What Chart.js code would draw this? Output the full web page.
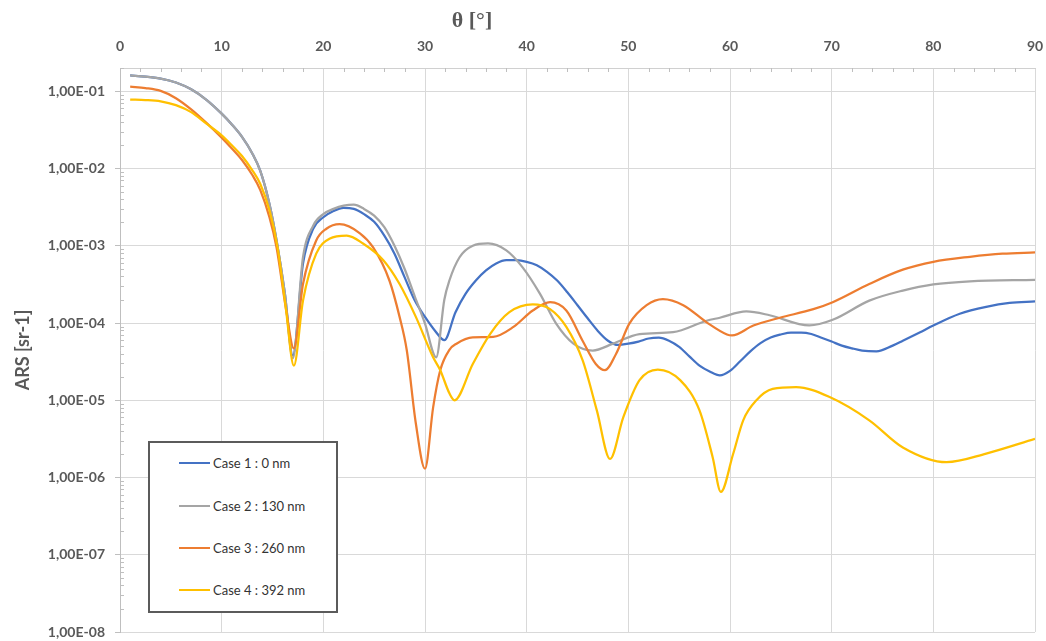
<!DOCTYPE html>
<html><head><meta charset="utf-8">
<script src="https://cdn.jsdelivr.net/npm/chart.js@4"></script>
<style>
html,body{margin:0;padding:0;background:#fff;}
#wrap{position:relative;width:1046px;height:641px;}
#legend{position:absolute;left:148px;top:441px;width:190px;height:172px;border:2px solid #5b5b5b;background:#fff;box-sizing:border-box;}
.item{position:absolute;left:29px;height:18px;display:flex;align-items:center;font:13px Lato, sans-serif;color:#333;white-space:nowrap;}
.swatch{width:31px;height:2px;margin-right:3px;}
</style></head>
<body><div id="wrap"><canvas id="c" width="1046" height="641"></canvas><div id="legend"></div></div>
<script>
// ---- data ----
const seriesLabels = ['Case 1 : 0 nm', 'Case 2 : 130 nm', 'Case 3 : 260 nm', 'Case 4 : 392 nm'];
const seriesColors = ['#4472C4', '#A5A5A5', '#ED7D31', '#FFC000'];

const theta1 = [1,2.5,4,5.5,7,8.5,10,11,12,13,13.8,14.7,15.4,16.2,17,18,19,20,21,22,23,24,25,26,27,28,29,30,31,31.9,33,34,35,36,37,38,39,40,41,42,43,44,45,46,47,48,49,50,51,52,53,54,55,56,57,58,59,60,61,62,63,64,65,66,67,68,69,70,71,72,73,74.4,76,77,78.7,80,82.6,85.2,87.5,90];
const ars1 = [0.16,0.155,0.146,0.13,0.106,0.0776,0.0513,0.0372,0.0257,0.0158,0.0093,0.00347,0.00117,2.5e-4,3.8e-5,5.9e-4,1.66e-3,2.34e-3,2.82e-3,3.1e-3,3.0e-3,2.57e-3,2.04e-3,1.35e-3,7.9e-4,3.9e-4,1.95e-4,1.2e-4,7.9e-5,6.0e-5,1.38e-4,2.4e-4,3.55e-4,4.8e-4,5.9e-4,6.5e-4,6.5e-4,6.2e-4,5.6e-4,4.6e-4,3.55e-4,2.5e-4,1.7e-4,1.15e-4,7.9e-5,5.9e-5,5.2e-5,5.4e-5,5.75e-5,6.3e-5,6.45e-5,5.9e-5,4.9e-5,3.7e-5,2.8e-5,2.35e-5,2.1e-5,2.4e-5,3.2e-5,4.3e-5,5.5e-5,6.5e-5,7.1e-5,7.5e-5,7.5e-5,7.2e-5,6.45e-5,5.75e-5,5.1e-5,4.7e-5,4.4e-5,4.3e-5,5.1e-5,5.9e-5,7.6e-5,9.3e-5,1.32e-4,1.62e-4,1.82e-4,1.9e-4];

const theta2 = [1,2.5,4,5.5,7,8.5,10,11,12,13,13.8,14.7,15.4,16.2,17,18,19,20,21,22,23,24,25,26,27,28,29,30,31.1,31.9,32.4,33.4,34.7,36.2,38,39.6,41.3,42.9,44.6,46.5,48.5,51.1,54.4,57.7,59,61.6,63.9,67.8,70.1,73.7,77,80,83.6,90];
const ars2 = [0.16,0.155,0.146,0.13,0.106,0.0776,0.0513,0.0372,0.0257,0.0158,0.0093,0.00347,0.00117,2.5e-4,3.5e-5,7.1e-4,1.82e-3,2.57e-3,3.0e-3,3.3e-3,3.4e-3,3.0e-3,2.45e-3,1.74e-3,1.0e-3,5.0e-4,2.2e-4,9.8e-5,3.6e-5,2.0e-4,3.55e-4,7.1e-4,1.0e-3,1.07e-3,8.7e-4,5.25e-4,2.4e-4,9.8e-5,5.4e-5,4.4e-5,5.4e-5,7.2e-5,7.6e-5,1.07e-4,1.17e-4,1.41e-4,1.26e-4,9.3e-5,1.1e-4,1.95e-4,2.63e-4,3.16e-4,3.47e-4,3.63e-4];

const theta3 = [1,2.5,4,5.5,7,8.5,10,11,12,13,13.8,14.7,15.4,16.3,17.1,18,19.3,20.3,21.6,23.6,24.9,26.5,27.5,28.2,29.1,30,30.8,31.5,32.4,33.1,34.7,36.7,38.7,40.6,42.3,43.9,45.5,46.8,47.7,48.8,50.1,51.8,53.4,55.4,57.7,59.7,60.2,62.3,64.9,68.2,70.1,73.7,77,80,83.6,86.8,90];
const ars3 = [0.115,0.11,0.101,0.0813,0.0582,0.0389,0.0251,0.0182,0.0129,0.0083,0.00525,0.00234,9.5e-4,1.6e-4,4.7e-5,3.2e-4,1.17e-3,1.66e-3,1.9e-3,1.45e-3,9.5e-4,3.55e-4,1.2e-4,4.5e-5,5.0e-6,1.3e-6,8.1e-6,2.45e-5,4.5e-5,5.4e-5,6.5e-5,6.6e-5,8.9e-5,1.45e-4,1.86e-4,1.45e-4,5.9e-5,2.95e-5,2.45e-5,4.0e-5,9.8e-5,1.7e-4,2.04e-4,1.7e-4,1.02e-4,7.1e-5,6.9e-5,9.3e-5,1.17e-4,1.51e-4,1.86e-4,3.2e-4,4.9e-4,6.2e-4,7.2e-4,7.9e-4,8.2e-4];

const theta4 = [1,2.5,4,5.5,7,8.5,10,11,12,13,13.8,14.7,15.5,16.3,17.1,18,19.3,20.6,22.3,23.9,25.9,27.5,29.1,30.8,31.5,32.4,32.9,34.7,36.4,38.3,40.6,42.3,43.9,45.5,46.9,48.2,49.5,51.1,52.9,55.1,57,58.3,59.1,60.3,61.3,62.6,64.2,66.5,69.8,73.7,77,81.3,85.2,90];
const ars4 = [0.078,0.077,0.0741,0.0661,0.0537,0.038,0.0269,0.02,0.0145,0.00955,0.0063,0.00288,9.5e-4,1.6e-4,2.8e-5,1.95e-4,7.9e-4,1.23e-3,1.35e-3,1.07e-3,6.5e-4,3.2e-4,1.2e-4,3.6e-5,2.45e-5,1.23e-5,1.0e-5,2.95e-5,7.2e-5,1.38e-4,1.74e-4,1.51e-4,8.9e-5,3.3e-5,7.4e-6,1.74e-6,6.0e-6,1.82e-5,2.5e-5,1.82e-5,7.4e-6,1.82e-6,6.5e-7,2.0e-6,5.5e-6,1.0e-5,1.4e-5,1.48e-5,1.1e-5,5.5e-6,2.45e-6,1.58e-6,2.04e-6,3.16e-6];

const yTickValues = [1e-8,1e-7,1e-6,1e-5,1e-4,1e-3,1e-2,1e-1];
const yTickLabels = ['1,00E-08','1,00E-07','1,00E-06','1,00E-05','1,00E-04','1,00E-03','1,00E-02','1,00E-01'];
const xTitle = 'θ [°]';
const yTitle = 'ARS [sr-1]';

// ---- build chart ----
const thetas = [theta1, theta2, theta3, theta4];
const arsList = [ars1, ars2, ars3, ars4];
const datasets = seriesLabels.map((lab, i) => ({
  label: lab,
  data: thetas[i].map((t, j) => ({x: t, y: arsList[i][j]})),
  borderColor: seriesColors[i],
  backgroundColor: seriesColors[i],
  borderWidth: 2.25,
  pointRadius: 0,
  cubicInterpolationMode: 'monotone',
  fill: false,
  order: 4 - i
}));

const extras = {
  id: 'extras',
  beforeDatasetsDraw(chart) {
    const {ctx, chartArea: a} = chart;
    const x = chart.scales.x, y = chart.scales.y;
    ctx.save();
    ctx.strokeStyle = '#bfbfbf';
    ctx.lineWidth = 1;
    ctx.beginPath();
    for (let e = -8; e <= -1; e++) {
      for (let k = 2; k <= 9; k++) {
        const v = k * Math.pow(10, e);
        if (v > y.max) continue;
        const py = Math.round(y.getPixelForValue(v)) + 0.5;
        ctx.moveTo(a.left, py); ctx.lineTo(a.left + 4, py);
      }
    }
    for (let t = 2; t < 90; t += 2) {
      if (t % 10 === 0) continue;
      const px = Math.round(x.getPixelForValue(t)) + 0.5;
      ctx.moveTo(px, a.top); ctx.lineTo(px, a.top + 4);
    }
    ctx.stroke();
    ctx.restore();
  },
  afterDraw(chart) {
    const ctx = chart.ctx;
    ctx.save();
    ctx.font = 'bold 22px "Liberation Serif", serif';
    ctx.fillStyle = '#595959';
    ctx.textAlign = 'center';
    ctx.textBaseline = 'middle';
    ctx.fillText(xTitle, 472, 21);
    ctx.restore();
  }
};

new Chart(document.getElementById('c'), {
  type: 'line',
  data: {datasets},
  options: {
    responsive: false,
    animation: false,
    devicePixelRatio: 1,
    layout: {padding: {left: 0, right: 11, top: 0, bottom: 9}},
    plugins: {legend: {display: false}, tooltip: {enabled: false}},
    scales: {
      x: {
        type: 'linear', position: 'top', min: 0, max: 90,
        ticks: {stepSize: 10, padding: 13, color: '#595959', font: {family: 'Lato', size: 14, weight: 'bold'}},
        grid: {color: '#d9d9d9', drawTicks: false, lineWidth: 1},
        border: {color: '#d0d0d0'},
        afterFit(s) { s.height = 68; s.paddingLeft = 0; s.paddingRight = 0; }
      },
      y: {
        type: 'logarithmic', position: 'left', min: 1e-8, max: 0.2,
        afterBuildTicks(s) { s.ticks = yTickValues.map(v => ({value: v, major: true})); },
        ticks: {
          padding: 10, color: '#595959', font: {family: 'Lato', size: 14, weight: 'bold'},
          autoSkip: false,
          callback(v) { const i = yTickValues.findIndex(t => Math.abs(t - v) / t < 1e-6); return i >= 0 ? yTickLabels[i] : ''; }
        },
        grid: {color: '#d9d9d9', tickLength: 5, tickColor: '#bfbfbf', lineWidth: 1},
        border: {color: '#bfbfbf'},
        title: {display: true, text: yTitle, color: '#595959', font: {family: 'Lato', size: 18, weight: 'bold'}, padding: {top: 12, bottom: 0}},
        afterFit(s) { s.width = 120; s.paddingTop = 0; s.paddingBottom = 0; }
      }
    }
  },
  plugins: [extras]
});

// HTML legend built from the series
const leg = document.getElementById('legend');
const rowTops = [11, 54, 96, 138];
seriesLabels.forEach((lab, i) => {
  const d = document.createElement('div');
  d.className = 'item';
  d.style.top = rowTops[i] + 'px';
  const sw = document.createElement('span');
  sw.className = 'swatch';
  sw.style.background = seriesColors[i];
  const tx = document.createElement('span');
  tx.textContent = lab;
  d.appendChild(sw); d.appendChild(tx);
  leg.appendChild(d);
});
</script>
</body></html>
